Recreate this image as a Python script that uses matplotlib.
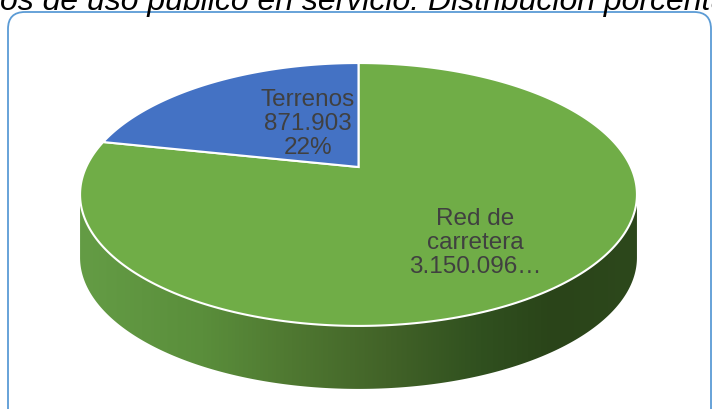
import numpy as np
import matplotlib.pyplot as plt
from matplotlib.patches import Polygon, FancyBboxPatch
from matplotlib.colors import LinearSegmentedColormap

# Data
categories = ['Red de\ncarretera', 'Terrenos']
values = [3150096, 871903]
value_labels = ['3.150.096…', '871.903']
colors = ['#70ad47', '#4472c4']
title = 'os de uso público en servicio. Distribución porcentual'

W, H = 712, 410
fig = plt.figure(figsize=(W / 100, H / 100), dpi=100)
ax = fig.add_axes([0, 0, 1, 1])
ax.set_xlim(0, W)
ax.set_ylim(H, 0)
ax.axis('off')

# perspective pie geometry, pixel units
cx, cy = 358.5, 168
A, B, k = 272.3, 125.7, 0.209
depth = 63


def proj(t, r=1.0, dz=0.0):
    u = r * np.cos(t)
    v = r * np.sin(t)
    d = 1 + k * v
    return cx + A * u / d, cy - B * v / d + dz


# slice angles, clockwise from 12 o'clock
total = sum(values)
bounds = [np.pi / 2]
for v in values:
    bounds.append(bounds[-1] - 2 * np.pi * v / total)

# side wall (front part only)
t_left = np.pi + np.arcsin(k)
t_right = 2 * np.pi - np.arcsin(k)
ts = np.linspace(t_left, t_right, 300)
xt, yt = proj(ts)
xb, yb = proj(ts[::-1], dz=depth)
side = Polygon(np.column_stack([np.r_[xt, xb], np.r_[yt, yb]]),
               closed=True, facecolor='none', edgecolor='none')
ax.add_patch(side)
shade = LinearSegmentedColormap.from_list('side', [
    (0.0, '#649c45'), (0.22, '#5a8e3b'), (0.38, '#4f7831'),
    (0.55, '#426328'), (0.72, '#30501f'), (0.85, '#2a4419'), (1.0, '#2d481c')])
grad = np.linspace(0, 1, 256).reshape(1, -1)
im = ax.imshow(grad, cmap=shade, aspect='auto',
               extent=[xt.min(), xt.max(), yb.max(), yt.min() - 5], zorder=1)
im.set_clip_path(side)
ax.set_xlim(0, W)
ax.set_ylim(H, 0)

# top surface
for i in range(len(values)):
    t = np.linspace(bounds[i], bounds[i + 1], 300)
    x, y = proj(t)
    pts = np.column_stack([np.r_[cx, x], np.r_[cy, y]])
    ax.add_patch(Polygon(pts, closed=True, facecolor=colors[i],
                         edgecolor='white', linewidth=1.5, zorder=2))

# data labels
label_pos = [(475, 243), (308, 124)]
pct = [round(100 * v / total) for v in values]
for i in range(len(values)):
    txt = f'{categories[i]}\n{value_labels[i]}'
    if i == 1:
        txt += f'\n{pct[i]}%'
    ax.text(label_pos[i][0], label_pos[i][1], txt, ha='center', va='center',
            fontsize=17.5, color='#404040', family='Liberation Sans',
            linespacing=1.12, zorder=3)

# frame
ax.add_patch(FancyBboxPatch((8, 13), 703, 420,
                            boxstyle='round,pad=0,rounding_size=17',
                            facecolor='none', edgecolor='#5b9bd5',
                            linewidth=1.3, zorder=4))

# title (cut at top)
ax.text(0, 10, title, ha='left', va='baseline', fontsize=23,
        style='italic', family='Liberation Sans', color='black', zorder=5)

plt.savefig('out.png', dpi=100)
